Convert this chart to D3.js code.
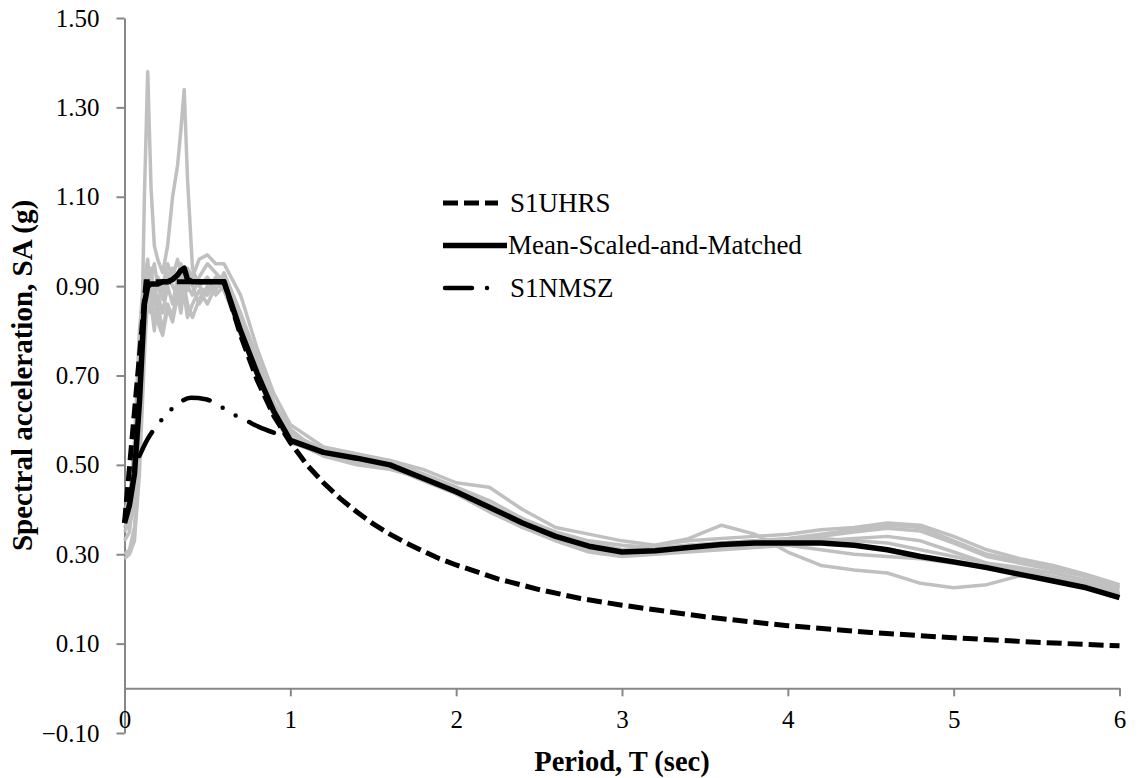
<!DOCTYPE html>
<html>
<head>
<meta charset="utf-8">
<script src="https://cdn.jsdelivr.net/npm/d3@7"></script>
<style>
  html, body { margin: 0; padding: 0; background: #fff; }
  svg { display: block; font-family: "Liberation Serif", "Times New Roman", serif; }
</style>
</head>
<body>
<svg id="chart" width="1139" height="778"></svg>
<script>
// Period grid (s) shared by the individual records and their mean
const periods = [0, 0.03, 0.06, 0.09, 0.12, 0.14, 0.16, 0.18, 0.20, 0.23,
  0.26, 0.29, 0.32, 0.34, 0.36, 0.38, 0.41, 0.45, 0.50, 0.55,
  0.60, 0.70, 0.80, 0.90, 1.0, 1.2, 1.4, 1.6, 1.8, 2.0,
  2.2, 2.4, 2.6, 2.8, 3.0, 3.2, 3.4, 3.6, 3.8, 4.0,
  4.2, 4.4, 4.6, 4.8, 5.0, 5.2, 5.4, 5.6, 5.8, 6.0];

// Scaled-and-matched ground motion records, SA (g)
const record1 = [0.30, 0.31, 0.36, 0.52, 1.10, 1.38, 1.12, 0.99, 0.96, 0.93,
  0.99, 1.10, 1.17, 1.25, 1.34, 1.14, 0.94, 0.90, 0.88, 0.91,
  0.89, 0.80, 0.71, 0.63, 0.57, 0.53, 0.52, 0.51, 0.48, 0.45,
  0.41, 0.375, 0.345, 0.325, 0.31, 0.31, 0.32, 0.325, 0.33, 0.335,
  0.345, 0.355, 0.365, 0.36, 0.33, 0.30, 0.285, 0.27, 0.25, 0.228];
const record2 = [0.33, 0.35, 0.45, 0.72, 0.92, 0.96, 0.86, 0.80, 0.88, 0.84,
  0.90, 0.86, 0.92, 0.88, 0.93, 0.90, 0.88, 0.92, 0.95, 0.93,
  0.91, 0.83, 0.73, 0.64, 0.58, 0.52, 0.50, 0.49, 0.47, 0.44,
  0.40, 0.365, 0.335, 0.32, 0.31, 0.32, 0.335, 0.365, 0.345, 0.305,
  0.275, 0.265, 0.258, 0.235, 0.225, 0.232, 0.252, 0.245, 0.232, 0.212];
const record3 = [0.40, 0.42, 0.55, 0.80, 0.93, 0.92, 0.94, 0.88, 0.92, 0.90,
  0.95, 0.92, 0.96, 0.93, 0.91, 0.94, 0.92, 0.96, 0.97, 0.95,
  0.95, 0.88, 0.76, 0.66, 0.59, 0.54, 0.525, 0.51, 0.49, 0.46,
  0.45, 0.40, 0.36, 0.345, 0.33, 0.32, 0.33, 0.335, 0.34, 0.345,
  0.355, 0.36, 0.37, 0.365, 0.34, 0.31, 0.29, 0.275, 0.255, 0.232];
const record4 = [0.36, 0.38, 0.42, 0.60, 0.78, 0.86, 0.84, 0.90, 0.82, 0.79,
  0.85, 0.82, 0.88, 0.84, 0.90, 0.86, 0.83, 0.87, 0.90, 0.88,
  0.90, 0.81, 0.72, 0.63, 0.56, 0.53, 0.51, 0.50, 0.475, 0.45,
  0.41, 0.38, 0.35, 0.33, 0.32, 0.315, 0.32, 0.325, 0.33, 0.33,
  0.34, 0.35, 0.358, 0.352, 0.325, 0.295, 0.28, 0.265, 0.25, 0.226];
const record5 = [0.29, 0.30, 0.33, 0.48, 0.74, 0.90, 0.88, 0.83, 0.86, 0.80,
  0.86, 0.83, 0.90, 0.86, 0.88, 0.83, 0.86, 0.89, 0.86, 0.90,
  0.92, 0.82, 0.71, 0.62, 0.555, 0.52, 0.505, 0.495, 0.465, 0.435,
  0.395, 0.36, 0.335, 0.31, 0.30, 0.305, 0.31, 0.315, 0.32, 0.325,
  0.33, 0.335, 0.34, 0.33, 0.305, 0.28, 0.27, 0.258, 0.242, 0.222];
const record6 = [0.38, 0.40, 0.50, 0.72, 0.90, 0.93, 0.90, 0.86, 0.92, 0.88,
  0.93, 0.90, 0.88, 0.92, 0.89, 0.93, 0.90, 0.86, 0.89, 0.92,
  0.90, 0.79, 0.70, 0.61, 0.55, 0.525, 0.51, 0.50, 0.47, 0.435,
  0.40, 0.36, 0.33, 0.305, 0.295, 0.30, 0.305, 0.31, 0.315, 0.32,
  0.31, 0.30, 0.295, 0.29, 0.28, 0.27, 0.255, 0.245, 0.23, 0.21];
const record7 = [0.35, 0.37, 0.40, 0.56, 0.80, 0.88, 0.92, 0.95, 0.90, 0.87,
  0.91, 0.94, 0.90, 0.95, 0.92, 0.89, 0.93, 0.90, 0.92, 0.89,
  0.93, 0.84, 0.74, 0.64, 0.57, 0.535, 0.52, 0.505, 0.48, 0.45,
  0.42, 0.38, 0.345, 0.325, 0.31, 0.31, 0.315, 0.32, 0.325, 0.33,
  0.335, 0.33, 0.325, 0.31, 0.295, 0.28, 0.265, 0.25, 0.235, 0.215];
const records = [record1, record2, record3, record4, record5, record6, record7];

// Mean of the scaled-and-matched records
const meanSA = [0.37, 0.41, 0.48, 0.64, 0.86, 0.90, 0.905, 0.905, 0.905, 0.91,
  0.91, 0.915, 0.925, 0.935, 0.94, 0.915, 0.91, 0.91, 0.91, 0.91,
  0.91, 0.80, 0.705, 0.62, 0.555, 0.528, 0.515, 0.50, 0.47, 0.44,
  0.405, 0.37, 0.34, 0.318, 0.305, 0.308, 0.315, 0.322, 0.325, 0.325,
  0.325, 0.32, 0.31, 0.295, 0.283, 0.27, 0.255, 0.24, 0.225, 0.203];

// Uniform hazard response spectrum
const uhrsPeriods = [0, 0.13, 0.6, 0.7, 0.8, 0.9, 1.0, 1.1, 1.2, 1.3, 1.4, 1.5, 1.6, 1.7, 1.8, 1.9, 2.0,
  2.25, 2.5, 2.75, 3.0, 3.5, 4.0, 4.5, 5.0, 5.5, 6.0];
const uhrsSA = [0.37, 0.91, 0.91, 0.79, 0.69, 0.61, 0.55, 0.50, 0.46, 0.425, 0.395, 0.368, 0.345, 0.325, 0.307, 0.29, 0.276,
  0.245, 0.221, 0.201, 0.186, 0.16, 0.14, 0.125, 0.113, 0.103, 0.095];

// New Madrid seismic zone scenario spectrum
const nmszPeriods = [0.09, 0.135, 0.2, 0.245, 0.31, 0.4, 0.49, 0.56, 0.64, 0.73, 0.81, 0.9, 1.0];
const nmszSA = [0.52, 0.555, 0.59, 0.61, 0.633, 0.65, 0.647, 0.635, 0.616, 0.60, 0.585, 0.572, 0.56];

const xTicks = [0, 1, 2, 3, 4, 5, 6];
const yTicks = [-0.10, 0.10, 0.30, 0.50, 0.70, 0.90, 1.10, 1.30, 1.50];
const legendLabels = ["S1UHRS", "Mean-Scaled-and-Matched", "S1NMSZ"];

const svg = d3.select("#chart");
const x = d3.scaleLinear().domain([0, 6]).range([124.5, 1119.5]);
const y = d3.scaleLinear().domain([-0.1, 1.5]).range([733, 18]);
const axisColor = "#878787";
const fontSize = 25;

const line = d3.line().x(d => x(d[0])).y(d => y(d[1]));
const smooth = d3.line().x(d => x(d[0])).y(d => y(d[1])).curve(d3.curveMonotoneX);

// Axes
const yAxis = svg.append("g")
  .attr("transform", `translate(${x(0)},0)`)
  .call(d3.axisLeft(y).tickValues(yTicks).tickSize(8).tickSizeOuter(0).tickPadding(17)
    .tickFormat(d3.format(".2f")));
const xAxis = svg.append("g")
  .attr("transform", `translate(0,${y(0)})`)
  .call(d3.axisBottom(x).tickValues(xTicks).tickSize(8).tickSizeOuter(0).tickPadding(14)
    .tickFormat(d3.format("d")));
[yAxis, xAxis].forEach(g => {
  g.selectAll("path, line").attr("stroke", axisColor).attr("stroke-width", 2);
  g.selectAll("text").attr("fill", "#000").style("font-size", fontSize + "px")
    .style("font-family", '"Liberation Serif", "Times New Roman", serif');
});

// Individual records
svg.append("g").selectAll("path").data(records).join("path")
  .attr("d", r => line(periods.map((p, i) => [p, r[i]])))
  .attr("fill", "none").attr("stroke", "#c0c0c0").attr("stroke-width", 3.5)
  .attr("stroke-linejoin", "round");

// UHRS
svg.append("path")
  .attr("d", line(uhrsPeriods.map((p, i) => [p, uhrsSA[i]])))
  .attr("fill", "none").attr("stroke", "#000").attr("stroke-width", 5)
  .attr("stroke-dasharray", "15,6");

// NMSZ
const nmszDash = "27,15,0,15,0,15";
svg.append("path")
  .attr("d", smooth(nmszPeriods.map((p, i) => [p, nmszSA[i]])))
  .attr("fill", "none").attr("stroke", "#000").attr("stroke-width", 4.5)
  .attr("stroke-linecap", "round").attr("stroke-dasharray", nmszDash);

// Mean
svg.append("path")
  .attr("d", line(periods.map((p, i) => [p, meanSA[i]])))
  .attr("fill", "none").attr("stroke", "#000").attr("stroke-width", 5.5)
  .attr("stroke-linejoin", "round");

// Legend
const legend = svg.append("g").attr("transform", "translate(443,203)");
const rowGap = 42.5;
const styles = [
  { w: 5, dash: "15,6", cap: "butt", len: 55 },
  { w: 5.5, dash: null, cap: "butt", len: 64 },
  { w: 4.5, dash: nmszDash, cap: "round", len: 46 }
];
legendLabels.forEach((lab, i) => {
  const s = styles[i];
  const row = legend.append("g").attr("transform", `translate(0,${i * rowGap})`);
  row.append("line").attr("x1", i === 2 ? 2 : 0).attr("x2", s.len).attr("y1", 0).attr("y2", 0)
    .attr("stroke", "#000").attr("stroke-width", s.w).attr("stroke-linecap", s.cap)
    .attr("stroke-dasharray", s.dash);
  row.append("text").attr("x", i === 1 ? 65 : 67).attr("y", 0).attr("dy", "0.33em")
    .style("font-size", "27px").text(lab);
});

// Axis titles
svg.append("text").attr("x", (x(0) + x(6)) / 2).attr("y", 771)
  .attr("text-anchor", "middle").style("font-size", "28.5px").style("font-weight", "bold")
  .text("Period, T (sec)");
svg.append("text").attr("transform", `translate(32,${(y(-0.1) + y(1.5)) / 2}) rotate(-90)`)
  .attr("text-anchor", "middle").style("font-size", "29px").style("font-weight", "bold")
  .text("Spectral acceleration, SA (g)");
</script>
</body>
</html>
